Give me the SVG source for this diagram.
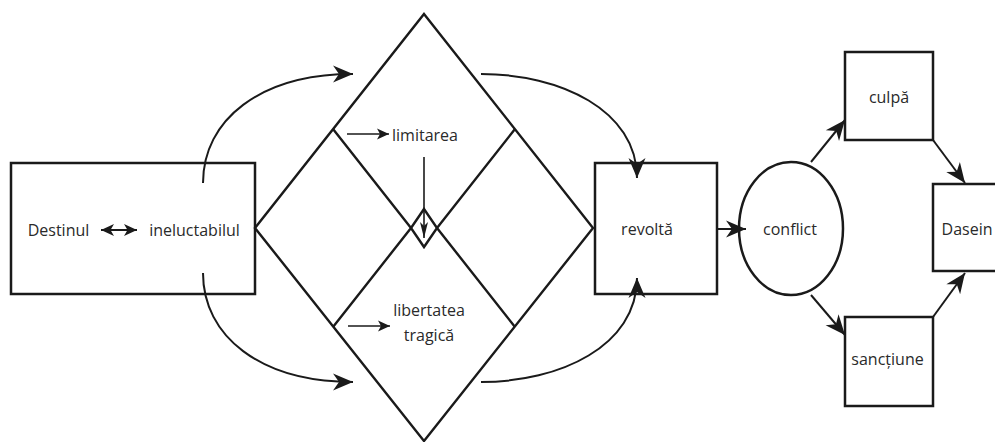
<svg xmlns="http://www.w3.org/2000/svg" width="995" height="442" viewBox="0 0 995 442">
  <style>
    .box { fill: #fff; stroke: #1a1a1a; stroke-width: 2.5; }
    .shape { fill: none; stroke: #1a1a1a; stroke-width: 2.4; stroke-linejoin: miter; }
    .curve { fill: none; stroke: #1a1a1a; stroke-width: 2; }
    .conn { fill: none; stroke: #1a1a1a; stroke-width: 2; }
    .thin { fill: none; stroke: #1a1a1a; stroke-width: 1.6; }
    .lbl { font-family: "Open Sans", "Noto Sans", sans-serif; font-size: 16px; fill: #2a2a2a; text-anchor: middle; }
  </style>
  <defs>
    <marker id="big" markerUnits="userSpaceOnUse" viewBox="-21 -9 22 18" refX="0" refY="0" markerWidth="22" markerHeight="18" orient="auto">
      <path d="M0,0 L-20,-8.5 L-14,0 L-20,8.5 Z" fill="#1a1a1a"/>
    </marker>
    <marker id="mid" markerUnits="userSpaceOnUse" viewBox="-14 -7 15 14" refX="0" refY="0" markerWidth="15" markerHeight="14" orient="auto-start-reverse">
      <path d="M0,0 L-13,-6 L-9.5,0 L-13,6 Z" fill="#1a1a1a"/>
    </marker>
    <marker id="small" markerUnits="userSpaceOnUse" viewBox="-13 -7 14 14" refX="0" refY="0" markerWidth="14" markerHeight="14" orient="auto">
      <path d="M0,0 L-12,-5.5 L-9,0 L-12,5.5 Z" fill="#1a1a1a"/>
    </marker>
    <marker id="narrow" markerUnits="userSpaceOnUse" viewBox="-17 -5 18 10" refX="0" refY="0" markerWidth="18" markerHeight="10" orient="auto">
      <path d="M0,0 L-16,-4 L-12,0 L-16,4 Z" fill="#1a1a1a"/>
    </marker>
  </defs>

  <g id="node-destinul">
    <rect class="box" x="11" y="163" width="244" height="131"/>
    <text class="lbl" x="58.5" y="235.5">Destinul</text>
    <text class="lbl" x="194.5" y="235.5">ineluctabilul</text>
  </g>

  <g id="node-diamond">
    <polygon class="shape" points="424,14 593,228 424,441 255,228"/>
    <polyline class="shape" points="333,129 411,228 333,327"/>
    <polyline class="shape" points="515,129 437,228 515,327"/>
    <polygon class="shape" points="424,209 437,228 424,247 411,228"/>
    <text class="lbl" x="425" y="140.5">limitarea</text>
    <text class="lbl" x="429" y="315.5">libertatea</text>
    <text class="lbl" x="429" y="340.5">tragică</text>
  </g>

  <g id="node-revolta">
    <rect class="box" x="595" y="163" width="122" height="131"/>
    <text class="lbl" x="647" y="234.5">revoltă</text>
  </g>

  <g id="node-conflict">
    <ellipse class="box" cx="791" cy="228.5" rx="52" ry="66.5"/>
    <text class="lbl" x="790" y="234.5">conflict</text>
  </g>

  <g id="node-culpa">
    <rect class="box" x="845" y="52" width="88" height="88"/>
    <text class="lbl" x="889" y="102.5">culpă</text>
  </g>

  <g id="node-sanctiune">
    <rect class="box" x="845" y="317" width="88" height="89"/>
    <text class="lbl" x="887.5" y="364.5">sancțiune</text>
  </g>

  <g id="node-dasein">
    <rect class="box" x="933" y="184" width="80" height="87"/>
    <text class="lbl" x="967" y="234.5">Dasein</text>
  </g>

  <g id="connectors">
    <line class="conn" x1="101" y1="230" x2="137" y2="230" marker-start="url(#mid)" marker-end="url(#mid)"/>
    <path class="curve" d="M203,183 C203,120 260,74 353,74" marker-end="url(#big)"/>
    <path class="curve" d="M203,273 C203,336 260,382 353,382" marker-end="url(#big)"/>
    <path class="curve" d="M481,74 C560,74 637,110 637,178" marker-end="url(#big)"/>
    <path class="curve" d="M481,382 C560,382 637,346 637,278" marker-end="url(#big)"/>
    <line class="thin" x1="347" y1="134" x2="389" y2="134" marker-end="url(#small)"/>
    <line class="thin" x1="348" y1="326" x2="390" y2="326" marker-end="url(#small)"/>
    <line class="thin" x1="424" y1="157" x2="424" y2="238" marker-end="url(#narrow)"/>
    <line class="conn" x1="717" y1="229" x2="746" y2="229" marker-end="url(#big)"/>
    <line class="conn" x1="811" y1="162" x2="845" y2="120" marker-end="url(#big)"/>
    <line class="conn" x1="811" y1="295" x2="845" y2="335" marker-end="url(#big)"/>
    <line class="conn" x1="933" y1="140" x2="965" y2="183" marker-end="url(#big)"/>
    <line class="conn" x1="933" y1="317" x2="965" y2="273" marker-end="url(#big)"/>
  </g>
</svg>
